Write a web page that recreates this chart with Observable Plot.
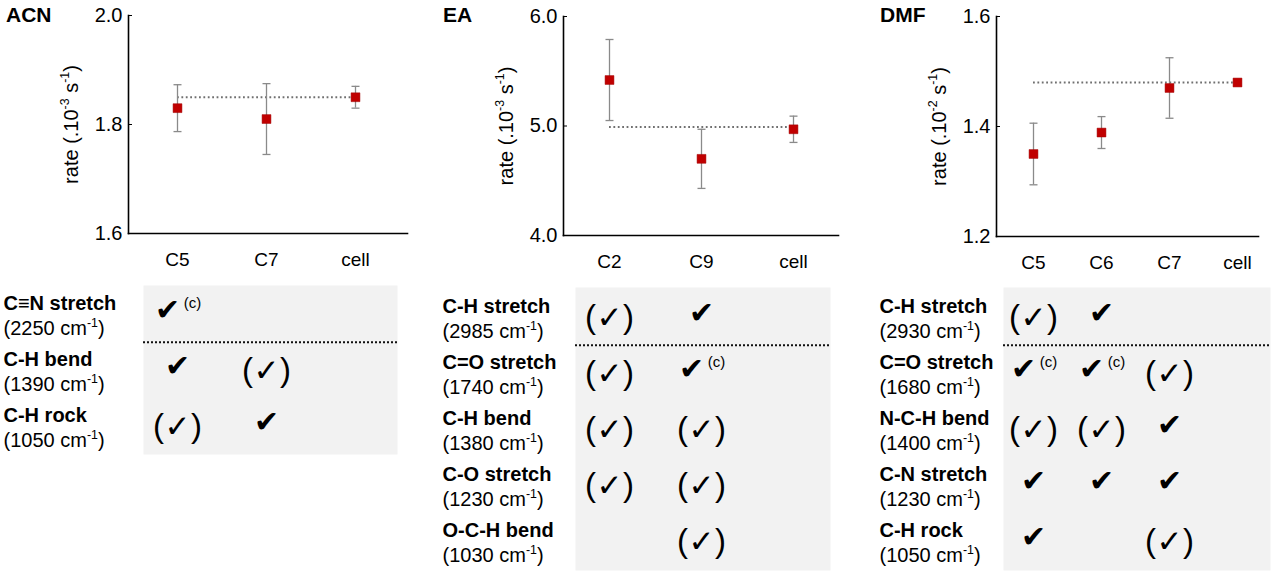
<!DOCTYPE html>
<html>
<head>
<meta charset="utf-8">
<script src="https://cdn.jsdelivr.net/npm/d3@7"></script>
<script src="https://cdn.jsdelivr.net/npm/@observablehq/plot@0.6"></script>
<style>
  html, body { margin: 0; padding: 0; background: #fff; }
  #root { position: relative; width: 1275px; height: 574px; overflow: hidden; background: #fff; }
  .panel { position: absolute; top: 0; height: 574px; }
  .panel > svg, .panel > figure { position: absolute; left: 0; margin: 0; }
  .title { position: absolute; top: 4px; font: bold 21px 'Liberation Sans', Arial, sans-serif; line-height: 21px; color: #000; }
</style>
</head>
<body>
<div id="root"></div>
<script>
// ---------------- data ----------------
const ACN_categories = ["C5", "C7", "cell"];
const ACN_rates = [1.83, 1.81, 1.85];
const ACN_errors = [0.043, 0.065, 0.02];
const ACN_reference = 1.85;
const ACN_yTicks = [1.6, 1.8, 2.0];
const ACN_modes = ["C≡N stretch", "C-H bend", "C-H rock"];
const ACN_wavenumbers = ["(2250 cm⁻¹)", "(1390 cm⁻¹)", "(1050 cm⁻¹)"];
const ACN_assign = [["S(c)", "", ""], ["S", "W", ""], ["W", "S", ""]];

const EA_categories = ["C2", "C9", "cell"];
const EA_rates = [5.42, 4.70, 4.97];
const EA_errors = [0.37, 0.27, 0.12];
const EA_reference = 4.99;
const EA_yTicks = [4.0, 5.0, 6.0];
const EA_modes = ["C-H stretch", "C=O stretch", "C-H bend", "C-O stretch", "O-C-H bend"];
const EA_wavenumbers = ["(2985 cm⁻¹)", "(1740 cm⁻¹)", "(1380 cm⁻¹)", "(1230 cm⁻¹)", "(1030 cm⁻¹)"];
const EA_assign = [["W", "S", ""], ["W", "S(c)", ""], ["W", "W", ""], ["W", "W", ""], ["", "W", ""]];

const DMF_categories = ["C5", "C6", "C7", "cell"];
const DMF_rates = [1.35, 1.389, 1.47, 1.48];
const DMF_errors = [0.056, 0.029, 0.055, 0.005];
const DMF_reference = 1.48;
const DMF_yTicks = [1.2, 1.4, 1.6];
const DMF_modes = ["C-H stretch", "C=O stretch", "N-C-H bend", "C-N stretch", "C-H rock"];
const DMF_wavenumbers = ["(2930 cm⁻¹)", "(1680 cm⁻¹)", "(1400 cm⁻¹)", "(1230 cm⁻¹)", "(1050 cm⁻¹)"];
const DMF_assign = [["W", "S", "", ""], ["S(c)", "S(c)", "W", ""], ["W", "W", "S", ""], ["S", "S", "S", ""], ["S", "", "W", ""]];

const titles = ["ACN", "EA", "DMF"];
const yLabels = ["rate (.10⁻³ s⁻¹)", "rate (.10⁻³ s⁻¹)", "rate (.10⁻² s⁻¹)"];

// ---------------- layout ----------------
const FONT = "'Liberation Sans', Arial, Helvetica, sans-serif";
const CHECK_FONT = "'DejaVu Sans', sans-serif";
const panels = [
  {title: titles[0], left: 0, width: 420, cats: ACN_categories, rates: ACN_rates, errs: ACN_errors, ref: ACN_reference,
   ticks: ACN_yTicks, label: yLabels[0], m: {l: 128, r: 13, t: 15, b: 47}, pad: 0.567, align: 0.485,
   modes: ACN_modes, wns: ACN_wavenumbers, assign: ACN_assign, tf: {l: 143, r: 397, t: 5, b: 120}, titleX: 6, labelX: 3},
  {title: titles[1], left: 420, width: 425, cats: EA_categories, rates: EA_rates, errs: EA_errors, ref: EA_reference,
   ticks: EA_yTicks, label: yLabels[1], m: {l: 143, r: 7, t: 16, b: 45}, pad: 0.486, align: 0.5,
   modes: EA_modes, wns: EA_wavenumbers, assign: EA_assign, tf: {l: 155, r: 410, t: 7, b: 4}, titleX: 23, labelX: 22},
  {title: titles[2], left: 840, width: 435, cats: DMF_categories, rates: DMF_rates, errs: DMF_errors, ref: DMF_reference,
   ticks: DMF_yTicks, label: yLabels[2], m: {l: 156, r: 17, t: 16, b: 44}, pad: 0.4, align: 0.64,
   modes: DMF_modes, wns: DMF_wavenumbers, assign: DMF_assign, tf: {l: 163, r: 430, t: 7, b: 4}, titleX: 40, labelX: 39}
];

const capSymbol = {draw(ctx) { ctx.moveTo(-4, 0); ctx.lineTo(4, 0); }};

function chart(p) {
  const data = p.cats.map((c, i) => ({cat: c, v: p.rates[i], lo: p.rates[i] - p.errs[i], hi: p.rates[i] + p.errs[i]}));
  const first = p.cats[0], last = p.cats[p.cats.length - 1];
  return Plot.plot({
    width: p.width, height: 280,
    marginLeft: p.m.l, marginRight: p.m.r, marginTop: p.m.t, marginBottom: p.m.b,
    style: {fontFamily: FONT, fontSize: "20px", color: "#000", background: "transparent", overflow: "visible"},
    x: {type: "point", domain: p.cats, padding: p.pad, align: p.align, label: null},
    y: {domain: [p.ticks[0], p.ticks[p.ticks.length - 1]], label: null},
    marks: [
      Plot.axisY({ticks: p.ticks, tickFormat: d3.format(".1f"), tickSize: -4, tickPadding: 10, fontSize: 20,
                  label: p.label, labelAnchor: "center", labelOffset: 65, labelArrow: "none"}),
      Plot.axisX({tickSize: 0, tickPadding: 19, fontSize: 19, label: null}),
      Plot.frame({anchor: "left", stroke: "#000", strokeWidth: 1.6}),
      Plot.frame({anchor: "bottom", stroke: "#000", strokeWidth: 1.6}),
      Plot.ruleY([p.ref], {y: d => d, x1: () => first, x2: () => last, stroke: "#707070", strokeWidth: 2, strokeDasharray: "1.8 2.6"}),
      Plot.ruleX(data, {x: "cat", y1: "lo", y2: "hi", stroke: "#8a8a8a", strokeWidth: 1.3}),
      Plot.dot(data, {x: "cat", y: "lo", symbol: capSymbol, fill: "none", stroke: "#8a8a8a", strokeWidth: 1.3}),
      Plot.dot(data, {x: "cat", y: "hi", symbol: capSymbol, fill: "none", stroke: "#8a8a8a", strokeWidth: 1.3}),
      Plot.dot(data, {x: "cat", y: "v", symbol: "square", r: 5, fill: "#c00000", stroke: "#a00000", strokeWidth: 0.5})
    ]
  });
}

function table(p) {
  const cells = [];
  p.modes.forEach((m, i) => p.assign[i].forEach((a, j) => { if (a) cells.push({mode: m, cat: p.cats[j], kind: a}); }));
  const strong = cells.filter(d => d.kind === "S");
  const strongC = cells.filter(d => d.kind === "S(c)");
  const weak = cells.filter(d => d.kind === "W");
  const H = 294;
  const step = (H - p.tf.t - p.tf.b) / p.modes.length;
  const labelDx = p.labelX - p.tf.l;
  return Plot.plot({
    width: p.width, height: H,
    marginLeft: p.tf.l, marginRight: p.width - p.tf.r, marginTop: p.tf.t, marginBottom: p.tf.b,
    style: {fontFamily: FONT, fontSize: "20px", color: "#000", background: "transparent", overflow: "visible"},
    x: {type: "point", domain: p.cats, padding: p.pad, align: p.align, range: [p.m.l, p.width - p.m.r], axis: null},
    y: {type: "point", domain: p.modes, padding: 0.5, axis: null},
    marks: [
      Plot.frame({fill: "#f2f2f2", stroke: "none"}),
      Plot.ruleY([p.modes[1]], {y: d => d, dy: -step / 2, stroke: "#111", strokeWidth: 2, strokeDasharray: "2 2"}),
      Plot.text(p.modes, {y: d => d, text: d => d, frameAnchor: "left", textAnchor: "start", dx: labelDx, dy: -11,
                          fontWeight: "bold", fontSize: 20}),
      Plot.text(p.modes, {y: d => d, text: (d, i) => p.wns[i], frameAnchor: "left", textAnchor: "start", dx: labelDx, dy: 14,
                          fontSize: 20}),
      Plot.text(strong, {x: "cat", y: "mode", text: () => "✔", fontFamily: CHECK_FONT, fontSize: 30, dy: -4}),
      Plot.text(strongC, {x: "cat", y: "mode", text: () => "✔", fontFamily: CHECK_FONT, fontSize: 30, dx: -10, dy: -4}),
      Plot.text(strongC, {x: "cat", y: "mode", text: () => "(c)", fontSize: 15, dx: 15, dy: -11}),
      Plot.text(weak, {x: "cat", y: "mode", text: () => "✓", fontFamily: CHECK_FONT, fontSize: 31, dy: 1}),
      Plot.text(weak, {x: "cat", y: "mode", text: () => "(", fontSize: 33, dx: -19, dy: 0}),
      Plot.text(weak, {x: "cat", y: "mode", text: () => ")", fontSize: 33, dx: 19, dy: 0})
    ]
  });
}

// turn unicode superscripts into real raised tspans
const supMap = {"⁻": "-", "¹": "1", "²": "2", "³": "3"};
function supify(svg) {
  svg.querySelectorAll("text").forEach(t => {
    const targets = t.querySelector("tspan") ? Array.from(t.querySelectorAll("tspan")) : [t];
    targets.forEach(el => {
      const s = el.textContent;
      if (!/[⁻¹²³]/.test(s)) return;
      const fs = parseFloat(getComputedStyle(el).fontSize) || 19;
      const parts = s.split(/([⁻¹²³]+)/).filter(x => x.length);
      el.textContent = "";
      let raised = false;
      parts.forEach(part => {
        const ts = document.createElementNS("http://www.w3.org/2000/svg", "tspan");
        if (/^[⁻¹²³]+$/.test(part)) {
          ts.textContent = part.split("").map(c => supMap[c]).join("");
          ts.setAttribute("font-size", (fs * 0.62).toFixed(1));
          ts.setAttribute("dy", (-fs * 0.42).toFixed(1));
          raised = true;
        } else {
          ts.textContent = part;
          if (raised) { ts.setAttribute("dy", (fs * 0.42).toFixed(1)); raised = false; }
        }
        el.appendChild(ts);
      });
    });
  });
}

const root = document.getElementById("root");
panels.forEach(p => {
  const div = document.createElement("div");
  div.className = "panel";
  div.style.left = p.left + "px";
  div.style.width = p.width + "px";
  root.appendChild(div);

  const c = chart(p);
  c.style.top = "0px";
  div.appendChild(c);
  supify(c);

  const t = table(p);
  t.style.top = "280px";
  div.appendChild(t);
  supify(t);

  const title = document.createElement("div");
  title.className = "title";
  title.style.left = p.titleX + "px";
  title.textContent = p.title;
  div.appendChild(title);
});
</script>
</body>
</html>
